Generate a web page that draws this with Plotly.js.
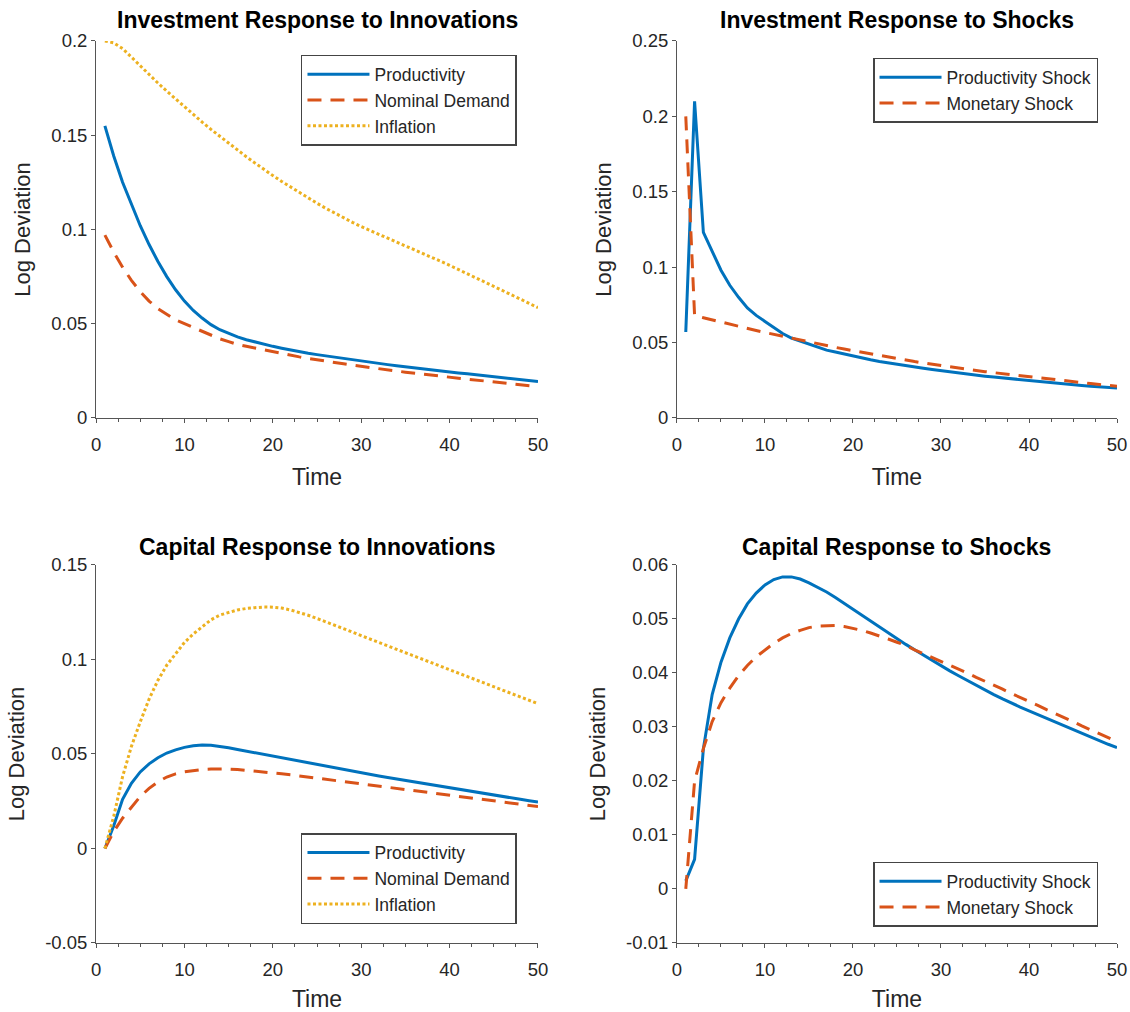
<!DOCTYPE html>
<html>
<head>
<meta charset="utf-8">
<script src="https://cdn.plot.ly/plotly-3.0.1.min.js"></script>
<style>html,body{margin:0;padding:0;background:#fff;}#chart{width:1130px;height:1012px;}</style>
</head>
<body>
<div id="chart"></div>
<script>
// ---- data ----
const time = [1,2,3,4,5,6,7,8,9,10,11,12,13,14,15,16,17,18,19,20,21,22,23,24,25,26,27,28,29,30,31,32,33,34,35,36,37,38,39,40,41,42,43,44,45,46,47,48,49,50];

// Investment response to innovations
const invInnovProductivity = [0.155,0.139,0.125,0.113,0.102,0.092,0.083,0.075,0.068,0.062,0.057,0.053,0.0495,0.0468,0.0447,0.043,0.0415,0.0402,0.039,0.038,0.037,0.036,0.035,0.0343,0.0336,0.0329,0.0322,0.0315,0.0308,0.0301,0.0295,0.0289,0.0283,0.0277,0.0271,0.0265,0.0259,0.0254,0.0249,0.0244,0.0239,0.0234,0.0229,0.0224,0.0219,0.0214,0.0209,0.0204,0.0199,0.0194];
const invInnovNominal = [0.097,0.088,0.080,0.073,0.067,0.062,0.058,0.055,0.052,0.050,0.048,0.046,0.044,0.042,0.0405,0.039,0.038,0.037,0.036,0.035,0.034,0.0332,0.0324,0.0316,0.0308,0.0301,0.0294,0.0287,0.0280,0.0273,0.0267,0.0261,0.0255,0.0249,0.0243,0.0237,0.0231,0.0226,0.0221,0.0216,0.0211,0.0206,0.0201,0.0196,0.0191,0.0186,0.0181,0.0176,0.0171,0.0166];
const invInnovInflation = [0.200,0.199,0.196,0.1913,0.1867,0.1822,0.1777,0.1734,0.1692,0.1650,0.1610,0.1570,0.1531,0.1494,0.1457,0.1421,0.1386,0.1352,0.1318,0.1286,0.1255,0.1225,0.1195,0.1167,0.1139,0.1112,0.1086,0.1062,0.1038,0.1015,0.0995,0.0974,0.0954,0.0933,0.0913,0.0892,0.0872,0.0851,0.0831,0.0810,0.0788,0.0765,0.0743,0.0720,0.0698,0.0675,0.0653,0.0630,0.0608,0.0585];

// Investment response to shocks
const invShockProductivity = [0.057,0.210,0.123,0.110,0.098,0.088,0.080,0.073,0.068,0.064,0.060,0.056,0.053,0.051,0.049,0.047,0.045,0.0437,0.0423,0.041,0.0398,0.0386,0.0375,0.0365,0.0355,0.0346,0.0337,0.0329,0.0321,0.0313,0.0305,0.0298,0.0291,0.0284,0.0277,0.0271,0.0265,0.0259,0.0253,0.0247,0.0241,0.0236,0.0231,0.0226,0.0221,0.0216,0.0211,0.0207,0.0203,0.0199];
const invShockMonetary = [0.200,0.068,0.0665,0.065,0.0636,0.0622,0.0608,0.0594,0.058,0.0567,0.0554,0.0541,0.0528,0.0515,0.0503,0.0491,0.0479,0.0468,0.0457,0.0446,0.0435,0.0424,0.0414,0.0404,0.0394,0.0384,0.0374,0.0365,0.0356,0.0347,0.0339,0.0331,0.0323,0.0315,0.0307,0.0300,0.0293,0.0286,0.0279,0.0272,0.0265,0.0258,0.0252,0.0246,0.0240,0.0234,0.0228,0.0222,0.0216,0.0210];

// Capital response to innovations
const capInnovProductivity = [0,0.012,0.026,0.0345,0.0405,0.0448,0.048,0.0505,0.0522,0.0535,0.0543,0.0547,0.0546,0.0541,0.0533,0.0524,0.0515,0.0506,0.0497,0.0488,0.0479,0.047,0.0461,0.0452,0.0443,0.0434,0.0425,0.0416,0.0408,0.0400,0.0392,0.0384,0.0376,0.0368,0.0360,0.0352,0.0344,0.0336,0.0328,0.0320,0.0312,0.0304,0.0296,0.0288,0.0281,0.0274,0.0267,0.0260,0.0253,0.0246];
const capInnovNominal = [0,0.009,0.016,0.022,0.0275,0.0318,0.0352,0.0378,0.0395,0.0406,0.0413,0.0418,0.0420,0.0421,0.0420,0.0418,0.0414,0.0410,0.0405,0.0400,0.0395,0.0390,0.0384,0.0378,0.0372,0.0366,0.0360,0.0354,0.0348,0.0342,0.0336,0.0330,0.0324,0.0318,0.0312,0.0306,0.0300,0.0294,0.0288,0.0282,0.0276,0.0270,0.0264,0.0258,0.0252,0.0246,0.0240,0.0234,0.0228,0.0222];
const capInnovInflation = [0,0.017,0.038,0.054,0.067,0.079,0.089,0.097,0.103,0.109,0.1135,0.1175,0.121,0.1235,0.125,0.1262,0.127,0.1275,0.1278,0.1277,0.1272,0.1262,0.1249,0.1234,0.1217,0.1200,0.1182,0.1164,0.1145,0.1126,0.1108,0.1090,0.1072,0.1054,0.1036,0.1018,0.1000,0.0982,0.0964,0.0946,0.0928,0.0910,0.0892,0.0874,0.0856,0.0838,0.0820,0.0802,0.0784,0.0766];

// Capital response to shocks
const capShockProductivity = [0.0015,0.0055,0.026,0.036,0.042,0.0465,0.050,0.0528,0.0548,0.0563,0.0573,0.0578,0.0578,0.0574,0.0567,0.0559,0.0550,0.0540,0.0529,0.0518,0.0507,0.0496,0.0485,0.0474,0.0463,0.0453,0.0443,0.0433,0.0423,0.0413,0.0404,0.0395,0.0386,0.0377,0.0368,0.0360,0.0352,0.0344,0.0337,0.0330,0.0323,0.0316,0.0309,0.0302,0.0295,0.0288,0.0281,0.0275,0.0268,0.0262];
const capShockMonetary = [0,0.020,0.026,0.031,0.0345,0.0372,0.0395,0.0414,0.0430,0.0443,0.0455,0.0465,0.0473,0.0479,0.0484,0.0487,0.0488,0.0488,0.0486,0.0483,0.0479,0.0474,0.0469,0.0463,0.0457,0.0451,0.0443,0.0436,0.0429,0.0422,0.0415,0.0407,0.0400,0.0392,0.0385,0.0377,0.0370,0.0362,0.0355,0.0347,0.0340,0.0332,0.0325,0.0317,0.0310,0.0302,0.0295,0.0287,0.0280,0.0273];

// labels
const titles = ["Investment Response to Innovations","Investment Response to Shocks","Capital Response to Innovations","Capital Response to Shocks"];
const innovNames = ["Productivity","Nominal Demand","Inflation"];
const shockNames = ["Productivity Shock","Monetary Shock"];
const xTitle = "Time";
const yTitle = "Log Deviation";
const xTickVals = [0,10,20,30,40,50];
const yTickVals1 = [0,0.05,0.1,0.15,0.2];
const yTickText1 = ["0","0.05","0.1","0.15","0.2"];
const yTickVals2 = [0,0.05,0.1,0.15,0.2,0.25];
const yTickText2 = ["0","0.05","0.1","0.15","0.2","0.25"];
const yTickVals3 = [-0.05,0,0.05,0.1,0.15];
const yTickText3 = ["-0.05","0","0.05","0.1","0.15"];
const yTickVals4 = [-0.01,0,0.01,0.02,0.03,0.04,0.05,0.06];
const yTickText4 = ["-0.01","0","0.01","0.02","0.03","0.04","0.05","0.06"];

// ---- style ----
const BLUE = "#0072BD", RED = "#D95319", YEL = "#EDB120";
const LW = 3;
const DASH = "14px,9px";
const DOT = "3px,2.5px";
const FONT = "Arial, 'Liberation Sans', Helvetica, sans-serif";
const AX = "#555555";
const TXT = "#262626";

function tr(y, name, color, dash, xa, ya, lg) {
  return {x: time, y: y, name: name, type: "scatter", mode: "lines",
    line: {color: color, width: LW, dash: dash},
    xaxis: xa, yaxis: ya, legend: lg};
}

const data = [
  tr(invInnovProductivity, innovNames[0], BLUE, "solid", "x", "y", "legend"),
  tr(invInnovNominal, innovNames[1], RED, DASH, "x", "y", "legend"),
  tr(invInnovInflation, innovNames[2], YEL, DOT, "x", "y", "legend"),
  tr(invShockProductivity, shockNames[0], BLUE, "solid", "x2", "y2", "legend2"),
  tr(invShockMonetary, shockNames[1], RED, DASH, "x2", "y2", "legend2"),
  tr(capInnovProductivity, innovNames[0], BLUE, "solid", "x3", "y3", "legend3"),
  tr(capInnovNominal, innovNames[1], RED, DASH, "x3", "y3", "legend3"),
  tr(capInnovInflation, innovNames[2], YEL, DOT, "x3", "y3", "legend3"),
  tr(capShockProductivity, shockNames[0], BLUE, "solid", "x4", "y4", "legend4"),
  tr(capShockMonetary, shockNames[1], RED, DASH, "x4", "y4", "legend4")
];

const xdomL = [0.0850, 0.4761], xdomR = [0.5991, 0.9885];
const ydomT = [0.5870, 0.9595], ydomB = [0.0682, 0.4417];

function xax(dom, anchor) {
  return {domain: dom, anchor: anchor, range: [0, 50], tickvals: xTickVals,
    ticks: "outside", ticklen: 4, tickwidth: 1, tickcolor: AX, ticklabelstandoff: 6,
    minor: {dtick: 2.5, tick0: 0, ticks: "outside", ticklen: 3, tickwidth: 1, tickcolor: AX, showgrid: false},
    showline: true, linecolor: AX, linewidth: 1, mirror: false, showgrid: false, zeroline: false,
    tickfont: {family: FONT, size: 18.5, color: TXT},
    title: {text: xTitle, font: {family: FONT, size: 23, color: TXT}, standoff: 14}};
}
function yax(dom, anchor, range, vals, text) {
  return {domain: dom, anchor: anchor, range: range, tickvals: vals, ticktext: text,
    ticks: "outside", ticklen: 4, tickwidth: 1, tickcolor: AX,
    showline: true, linecolor: AX, linewidth: 1, mirror: false, showgrid: false, zeroline: false,
    tickfont: {family: FONT, size: 18.5, color: TXT},
    title: {text: yTitle, font: {family: FONT, size: 22, color: TXT}, standoff: 14}};
}
function leg(xr, y, yanchor) {
  return {x: xr, xanchor: "right", y: y, yanchor: yanchor, xref: "paper", yref: "paper",
    bgcolor: "#ffffff", bordercolor: "#444444", borderwidth: 1.5, itemwidth: 62,
    font: {family: FONT, size: 17.5, color: TXT}, tracegroupgap: 0};
}
function ttl(text, x, y) {
  return {text: "<b>" + text + "</b>", x: x, y: y, xref: "paper", yref: "paper",
    xanchor: "center", yanchor: "middle", showarrow: false,
    font: {family: FONT, size: 23, color: "#000000"}};
}

const layout = {
  width: 1130, height: 1012,
  margin: {l: 0, r: 0, t: 0, b: 0},
  paper_bgcolor: "#ffffff", plot_bgcolor: "#ffffff",
  showlegend: true,
  xaxis: xax(xdomL, "y"), yaxis: yax(ydomT, "x", [0, 0.2], yTickVals1, yTickText1),
  xaxis2: xax(xdomR, "y2"), yaxis2: yax(ydomT, "x2", [0, 0.25], yTickVals2, yTickText2),
  xaxis3: xax(xdomL, "y3"), yaxis3: yax(ydomB, "x3", [-0.05, 0.15], yTickVals3, yTickText3),
  xaxis4: xax(xdomR, "y4"), yaxis4: yax(ydomB, "x4", [-0.01, 0.06], yTickVals4, yTickText4),
  legend: leg(0.4575, 0.9457, "top"),
  legend2: leg(0.9717, 0.9427, "top"),
  legend3: leg(0.4575, 0.0869, "bottom"),
  legend4: leg(0.9717, 0.0842, "bottom"),
  annotations: [
    ttl(titles[0], (xdomL[0] + xdomL[1]) / 2, 0.980),
    ttl(titles[1], (xdomR[0] + xdomR[1]) / 2, 0.980),
    ttl(titles[2], (xdomL[0] + xdomL[1]) / 2, 0.4595),
    ttl(titles[3], (xdomR[0] + xdomR[1]) / 2, 0.4595)
  ]
};

Plotly.newPlot("chart", data, layout, {displayModeBar: false, staticPlot: true});
</script>
</body>
</html>
